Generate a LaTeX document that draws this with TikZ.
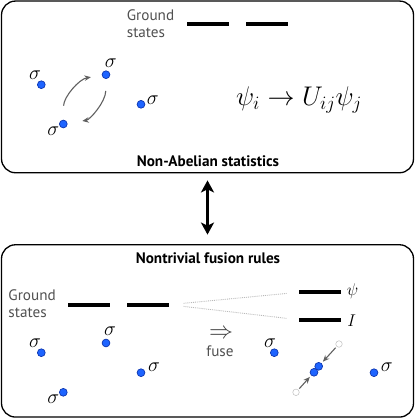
\RequirePackage{fix-cm}
\documentclass[tikz,border=0pt]{standalone}
\usepackage{amsmath}
\usepackage{fontspec}
\newfontfamily\panelfont{PT Sans}
\usepackage{tikz}
\usetikzlibrary{arrows.meta, positioning}
\definecolor{anyon}{RGB}{30, 100, 255}
\definecolor{anyonEdge}{RGB}{15, 55, 175}
\definecolor{labelgray}{RGB}{80, 80, 80}

\begin{document}
\begin{tikzpicture}[x=1pt, y=-1pt,
  panel/.style={draw, line width=1.3pt, rounded corners=14pt, minimum width=412pt},
  level/.style={fill=black, inner sep=0pt, minimum width=42pt, minimum height=3.8pt},
  particle/.style={circle, fill=anyon, draw=anyonEdge, line width=0.7pt, inner sep=0pt, minimum size=7.8pt},
  ghost/.style={circle, fill=white, draw=gray!50, line width=0.5pt, inner sep=0pt, minimum size=6.5pt},
  sig/.style={font=\fontsize{20}{20}\selectfont, inner sep=0pt},
  move/.style={-{Stealth[length=6.5pt, width=5.5pt]}, gray!75!black, line width=1.1pt},
  heading/.style={font=\panelfont\bfseries\fontsize{15.2}{17}\selectfont, inner sep=0pt},
  gs/.style={font=\panelfont\fontsize{15.2}{16.7}\selectfont, text=labelgray, align=left, inner sep=0pt, anchor=west}]
  \useasboundingbox (0,0) rectangle (415,418);

  % upper panel: braiding
  \node[panel, minimum height=171.7pt] (braid) at (207.5,86.9) {};
  \node[gs] (gsA) at (126.7,23.5) {Ground\\states};
  \node[level] (barA1) at (207.7,24.3) {};
  \node[level] (barA2) at (266.7,24.3) {};

  \node[particle] (s1) at (41.3,84.7) {};
  \node[particle] (s2) at (106,74.7) {};
  \node[particle] (s3) at (63.3,124) {};
  \node[particle] (s4) at (141,104.3) {};
  \node[sig] at (35,75) {$\sigma$};
  \node[sig] at (110.7,62.7) {$\sigma$};
  \node[sig] at (53.3,131) {$\sigma$};
  \node[sig] at (152.7,100) {$\sigma$};
  \draw[move, shorten <=14pt, shorten >=11pt] (s3) to[bend left=40] (s2);
  \draw[move, shorten <=12pt, shorten >=15pt] (s2) to[bend left=40] (s3);

  \node[font=\fontsize{27}{30}\selectfont] (rule) at (299,100) {$\psi_i \to U_{ij}\psi_j$};
  \node[heading] (titleA) at (208,160.7) {Non-Abelian statistics};

  % lower panel: fusion
  \node[panel, minimum height=172.3pt] (fusion) at (207.5,330.9) {};
  \draw[{Stealth[length=12pt, width=13pt, inset=3pt]}-{Stealth[length=12pt, width=13pt, inset=3pt]}, line width=3pt, shorten <=7pt, shorten >=9.5pt] (braid.south) -- (fusion.north);
  \node[heading] (titleB) at (208,257.7) {Nontrivial fusion rules};
  \node[gs] (gsB) at (8.3,303.5) {Ground\\states};
  \node[level] (barB1) at (89.2,304.7) {};
  \node[level] (barB2) at (147.9,304.7) {};
  \node[level] (psiBar) at (319.5,292.3) {};
  \node[level] (oneBar) at (319.5,319.7) {};
  \draw[gray!55, densely dotted, line width=0.9pt, shorten <=14.6pt, shorten >=11pt] (barB2.east) -- (psiBar.west);
  \draw[gray!55, densely dotted, line width=0.9pt, shorten <=14.6pt, shorten >=11pt] (barB2.east) -- (oneBar.west);
  \node[font=\fontsize{17}{17}\selectfont, inner sep=0pt] at (352.7,291) {$\psi$};
  \node[font=\fontsize{17}{17}\selectfont, inner sep=0pt] at (351.7,321) {$I$};

  \node[font=\fontsize{24}{24}\selectfont, text=black!75, inner sep=0pt] (fuseArrow) at (221,334) {$\Rightarrow$};
  \node[font=\panelfont\fontsize{15.2}{17}\selectfont, text=labelgray, inner sep=0pt] (fuseText) at (220,351.7) {fuse};

  \node[particle] (t1) at (41.3,352.7) {};
  \node[particle] (t2) at (106,343) {};
  \node[particle] (t3) at (141,372.7) {};
  \node[particle] (t4) at (63.3,392.3) {};
  \node[sig] at (35,343.3) {$\sigma$};
  \node[sig] at (110,330.7) {$\sigma$};
  \node[sig] at (154,367.3) {$\sigma$};
  \node[sig] at (53.3,399.3) {$\sigma$};

  \node[particle] (u1) at (274.3,352.7) {};
  \node[particle] (u4) at (374,372.7) {};
  \node[sig] at (270,343.3) {$\sigma$};
  \node[sig] at (386.7,367.3) {$\sigma$};
  \node[ghost] (g1) at (339,344) {};
  \node[ghost] (g2) at (296,392.3) {};
  \node[particle] (u2) at (318.7,366.3) {};
  \node[particle] (u3) at (314,372.3) {};
  \draw[move, shorten <=1.5pt, shorten >=2pt] (g1) -- (u2);
  \draw[move, shorten <=1.5pt, shorten >=2pt] (g2) -- (u3);
\end{tikzpicture}
\end{document}
